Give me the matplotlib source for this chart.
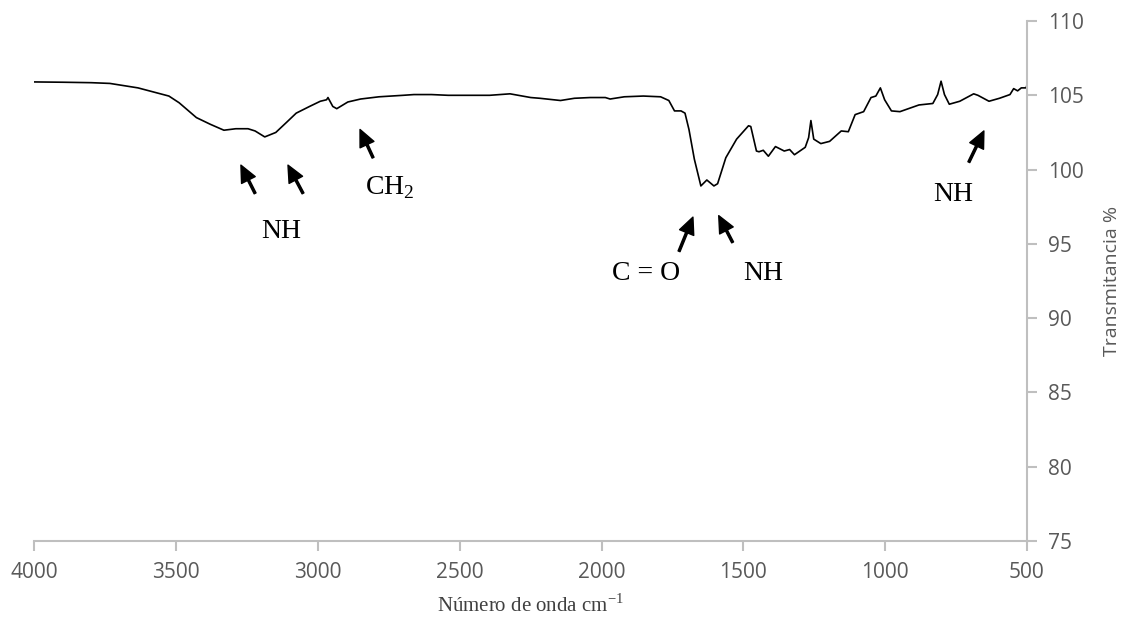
import matplotlib
matplotlib.use('Agg')
import matplotlib.pyplot as plt
import numpy as np

# IR spectrum
wavenumber = [4000, 3900, 3800, 3734, 3635, 3526, 3490, 3429, 3380, 3332,
              3290, 3247, 3222, 3188, 3149, 3110, 3077, 3030, 2992, 2970,
              2965, 2948, 2934, 2895, 2850, 2785, 2700, 2662, 2600, 2541,
              2470, 2395, 2323, 2250, 2218, 2145, 2096, 2040, 1987, 1970,
              1920, 1853, 1792, 1763, 1743, 1720, 1706, 1692, 1673, 1650,
              1629, 1604, 1591, 1562, 1524, 1482, 1474, 1454, 1445, 1430,
              1412, 1387, 1356, 1337, 1320, 1282, 1270, 1262, 1252, 1227,
              1196, 1155, 1130, 1106, 1076, 1050, 1033, 1017, 1002, 978,
              948, 881, 832, 815, 803, 791, 774, 737, 688, 673,
              634, 597, 560, 547, 533, 520, 503, 500]
transmittance = [105.9, 105.88, 105.85, 105.8, 105.5, 104.95, 104.5, 103.5, 103.05, 102.65,
                 102.75, 102.75, 102.6, 102.2, 102.5, 103.2, 103.8, 104.25, 104.6, 104.7,
                 104.85, 104.25, 104.1, 104.55, 104.75, 104.9, 105.0, 105.05, 105.05, 105.0,
                 105.0, 105.0, 105.1, 104.85, 104.8, 104.65, 104.8, 104.85, 104.85, 104.75,
                 104.9, 104.95, 104.9, 104.65, 103.95, 103.95, 103.8, 102.7, 100.7, 98.9,
                 99.3, 98.9, 99.05, 100.8, 102.05, 102.95, 102.9, 101.25, 101.2, 101.3,
                 100.9, 101.55, 101.25, 101.35, 101.0, 101.5, 102.15, 103.3, 102.05, 101.75,
                 101.9, 102.6, 102.55, 103.7, 103.9, 104.85, 104.95, 105.5, 104.7, 103.95,
                 103.9, 104.35, 104.45, 105.05, 105.95, 105.05, 104.4, 104.6, 105.1, 105.0,
                 104.6, 104.8, 105.05, 105.45, 105.3, 105.5, 105.5, 105.7]

# arrows: (head x, head y, tail x, tail y)
arrows = [(3272, 100.3, 3222, 98.4),
          (3106, 100.3, 3053, 98.4),
          (2852, 102.7, 2806, 100.8),
          (1678, 96.8, 1727, 94.5),
          (1587, 96.9, 1538, 95.1),
          (652, 102.6, 705, 100.5)]
label_text = ['NH', r'CH$_{\mathrm{2}}$', 'C = O', 'NH', 'NH']
label_x = [3131, 2747, 1844, 1431, 761]
label_y = [95.8, 98.8, 93.0, 93.0, 98.3]

xticks = [4000, 3500, 3000, 2500, 2000, 1500, 1000, 500]
yticks = [75, 80, 85, 90, 95, 100, 105, 110]

plt.rcParams['mathtext.fontset'] = 'custom'
plt.rcParams['mathtext.rm'] = 'Liberation Serif'

grey = '#595959'
axis_grey = '#bfbfbf'

fig = plt.figure(figsize=(11.23, 6.22), dpi=100)
ax = fig.add_axes([0.0307, 0.1302, 0.8838, 0.836])

ax.plot(wavenumber, transmittance, color='black', linewidth=1.2)

ax.set_xlim(4000, 500)
ax.set_ylim(75, 110)
ax.set_xticks(xticks)
ax.set_yticks(yticks)

ax.yaxis.tick_right()
ax.yaxis.set_label_position('right')
for side in ['top', 'left']:
    ax.spines[side].set_visible(False)
for side in ['bottom', 'right']:
    ax.spines[side].set_color(axis_grey)
    ax.spines[side].set_linewidth(1.5)

ax.tick_params(axis='both', colors=axis_grey, length=7, width=1.5,
               labelcolor=grey, labelsize=15)
ax.tick_params(axis='x', pad=8)
ax.tick_params(axis='y', pad=8)
for lab in ax.get_xticklabels() + ax.get_yticklabels():
    lab.set_family('Open Sans')

ax.set_ylabel('Transmitancia %', color=grey, fontsize=14,
              family='Open Sans', labelpad=14)
ax.set_xlabel(r'Número de onda cm$^{\mathrm{-1}}$', color='#404040',
              fontsize=15, family='Liberation Serif', labelpad=8)

for hx, hy, tx, ty in arrows:
    ax.annotate('', xy=(hx, hy), xytext=(tx, ty),
                arrowprops=dict(facecolor='black', edgecolor='black',
                                width=1.5, headwidth=11, headlength=12,
                                shrink=0))

for t, x, y in zip(label_text, label_x, label_y):
    ax.text(x, y, t, ha='center', va='center', fontsize=20,
            family='Liberation Serif', color='black')

plt.savefig('out.png', dpi=100)
